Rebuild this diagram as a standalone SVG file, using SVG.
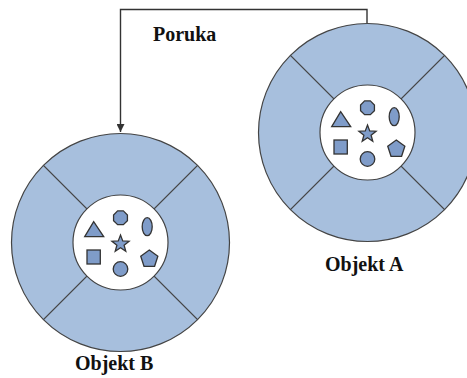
<svg xmlns="http://www.w3.org/2000/svg" width="467" height="378" viewBox="0 0 467 378">
<style>
.ring{fill:#a7bfdd;stroke:#444;stroke-width:1.2}
.hole{fill:#fff;stroke:#444;stroke-width:1.2}
.div{stroke:#444;stroke-width:1.3;fill:none}
.sh{fill:#7f9cc9;stroke:#333;stroke-width:1.3}
.lbl{font-family:"Liberation Serif","Times New Roman",serif;font-weight:bold;font-size:20px;fill:#111}
.conn{stroke:#333;stroke-width:1.4;fill:none}
</style>
<defs>
<marker id="arr" viewBox="0 0 10 10" refX="10" refY="5" markerWidth="8" markerHeight="8" markerUnits="userSpaceOnUse" orient="auto">
<path d="M0,0 L10,5 L0,10 Z" fill="#333"/>
</marker>
<g id="obj">
<circle class="ring" cx="0" cy="0" r="109"/>
<line class="div" x1="-77.1" y1="-77.1" x2="-33.6" y2="-33.6"/>
<line class="div" x1="77.1" y1="-77.1" x2="33.6" y2="-33.6"/>
<line class="div" x1="-77.1" y1="77.1" x2="-33.6" y2="33.6"/>
<line class="div" x1="77.1" y1="77.1" x2="33.6" y2="33.6"/>
<circle class="hole" cx="0" cy="0" r="47.5"/>
<polygon class="sh" points="2.87,-31.6 6.93,-27.57 6.93,-21.83 2.87,-17.8 -2.87,-17.8 -6.93,-21.83 -6.93,-27.57 -2.87,-31.6"/>
<ellipse class="sh" cx="26.7" cy="-15.8" rx="5" ry="9"/>
<polygon class="sh" points="-26.8,-20.8 -35.8,-5.8 -16.8,-5.8"/>
<polygon class="sh" points="0,-7.5 2.23,-1.57 8.56,-1.28 3.61,2.67 5.29,8.78 0,5.3 -5.29,8.78 -3.61,2.67 -8.56,-1.28 -2.23,-1.57"/>
<rect class="sh" x="-33.5" y="7.5" width="13.3" height="14"/>
<polygon class="sh" points="28.8,7.5 37.36,13.72 34.09,23.78 23.51,23.78 20.24,13.72"/>
<circle class="sh" cx="0" cy="26.5" r="7.3"/>
</g>
</defs>
<g id="connectors">
<polyline class="conn" points="367,23 367,9.5 120.5,9.5 120.5,132" marker-end="url(#arr)"/>
</g>
<g id="objekt-a">
<use href="#obj" x="367.5" y="132.5"/>
<text class="lbl" x="325" y="271">Objekt A</text>
</g>
<g id="objekt-b">
<use href="#obj" x="120.5" y="242.5"/>
<text class="lbl" x="75" y="370">Objekt B</text>
</g>
<g id="poruka-label">
<text class="lbl" x="153" y="41">Poruka</text>
</g>
</svg>
